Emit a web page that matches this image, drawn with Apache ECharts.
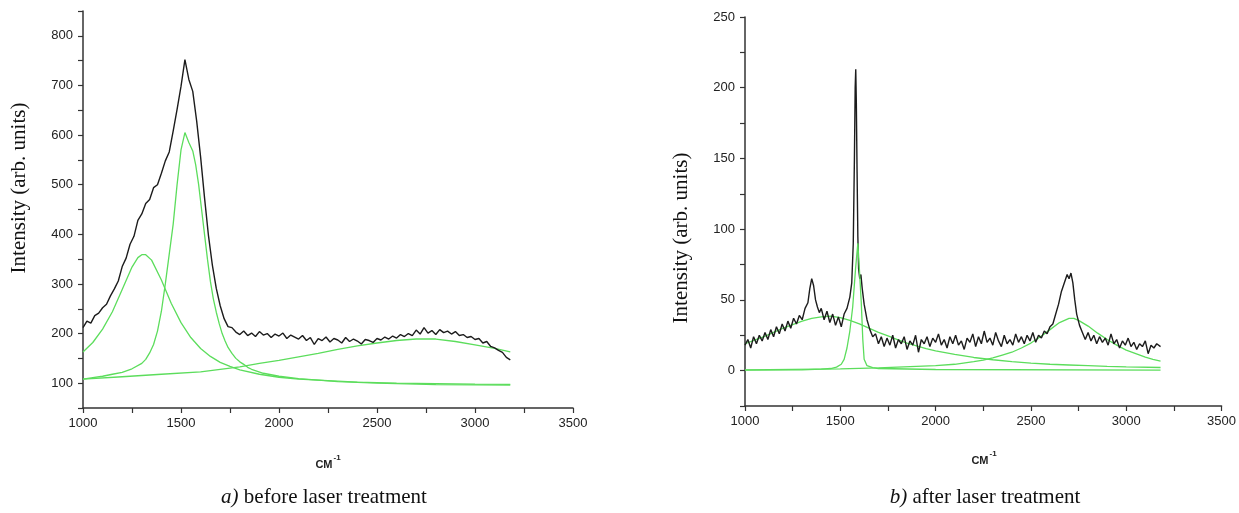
<!DOCTYPE html>
<html>
<head>
<meta charset="utf-8">
<script src="https://cdn.jsdelivr.net/npm/echarts@6/dist/echarts.min.js"></script>
<style>
html,body{margin:0;padding:0;background:#fff;}
#c{width:1239px;height:513px;}
</style>
</head>
<body>
<div id="c"></div>
<script>
// ---------- data: a) before laser treatment ----------
const leftMeasuredX = [1000,1020,1040,1060,1080,1100,1120,1140,1160,1180,1200,1220,1240,1260,1280,1300,1320,1340,1360,1380,1400,1420,1440,1460,1480,1500,1520,1540,1560,1580,1600,1620,1640,1660,1680,1700,1720,1740,1760,1780,1800,1820,1840,1860,1880,1900,1920,1940,1960,1980,2000,2020,2040,2060,2080,2100,2120,2140,2160,2180,2200,2220,2240,2260,2280,2300,2320,2340,2360,2380,2400,2420,2440,2460,2480,2500,2520,2540,2560,2580,2600,2620,2640,2660,2680,2700,2720,2740,2760,2780,2800,2820,2840,2860,2880,2900,2920,2940,2960,2980,3000,3020,3040,3060,3080,3100,3120,3140,3160,3180];
const leftMeasuredY = [212,225,221,236,241,252,259,276,290,306,335,352,380,396,428,441,462,470,494,500,523,548,566,608,652,698,752,712,688,628,556,474,398,338,291,256,230,214,212,203,198,205,196,201,194,204,197,200,192,199,195,201,190,197,193,189,196,186,192,178,190,186,193,183,190,187,181,192,184,189,185,179,188,186,182,190,187,193,189,195,191,198,194,200,196,207,199,212,201,206,198,208,202,205,199,204,196,198,192,194,188,190,181,184,174,171,166,162,152,147];

const leftFit1X = [1000,1050,1100,1150,1200,1250,1280,1300,1320,1350,1400,1450,1500,1550,1600,1650,1700,1750,1800,1900,2000,2100,2200,2400,2600,2800,3000,3180];
const leftFit1Y = [163,182,209,244,289,334,353,359,359,348,308,261,222,192,170,154,142,134,127,118,112,108,106,102,100,99,98,97.5];

const leftFit2X = [1000,1050,1100,1150,1200,1250,1300,1320,1340,1360,1380,1400,1420,1440,1460,1480,1500,1520,1540,1560,1575,1590,1605,1620,1635,1650,1665,1680,1695,1710,1725,1740,1760,1780,1800,1820,1840,1860,1890,1920,1960,2000,2100,2200,2300,2400,2500,2650,2800,3000,3180];
const leftFit2Y = [108,111,114,118,122,129,140,148,161,178,205,245,300,360,420,500,570,605,585,568,540,500,450,400,350,305,270,243,220,200,185,172,160,150,143,138,132,128,124,120,117,114,109,106,103,101.5,100,98.5,97,96.5,96];

const leftFit3X = [1000,1200,1400,1600,1800,1900,2000,2100,2200,2300,2400,2500,2600,2700,2800,2900,3000,3100,3180];
const leftFit3Y = [108,113,118,123,133,140,146,153,160,168,175,181,186,189,189,184,177,170,163];

// ---------- data: b) after laser treatment ----------
const rightMeasuredX = [1000,1015,1030,1045,1060,1075,1090,1105,1120,1135,1150,1165,1180,1195,1210,1225,1240,1255,1270,1285,1300,1315,1330,1340,1350,1360,1370,1380,1390,1400,1415,1430,1445,1460,1475,1490,1505,1520,1535,1550,1560,1568,1574,1578,1581,1584,1588,1592,1596,1602,1608,1615,1625,1640,1655,1670,1685,1700,1715,1730,1745,1760,1775,1790,1805,1820,1835,1850,1865,1880,1895,1910,1925,1940,1955,1970,1985,2000,2015,2030,2045,2060,2075,2090,2105,2120,2135,2150,2165,2180,2195,2210,2225,2240,2255,2270,2285,2300,2315,2330,2345,2360,2375,2390,2405,2420,2435,2450,2465,2480,2495,2510,2525,2540,2555,2570,2585,2600,2615,2630,2645,2660,2675,2690,2700,2710,2720,2730,2740,2755,2770,2785,2800,2815,2830,2845,2860,2875,2890,2905,2920,2935,2950,2965,2980,2995,3010,3025,3040,3055,3070,3085,3100,3115,3130,3145,3160,3180];
const rightMeasuredY = [18,22,16,24,19,25,21,27,22,29,24,31,26,33,28,35,30,37,33,39,36,44,48,58,65,60,50,45,41,44,36,42,34,40,32,38,31,40,44,52,62,90,150,200,213,190,140,95,72,65,68,58,47,36,29,24,26,19,24,17,23,18,25,16,22,19,24,15,21,18,25,13,22,19,24,17,23,20,26,18,22,16,24,19,25,18,21,15,23,20,26,17,24,19,28,20,23,18,27,21,17,25,19,22,18,26,20,24,19,25,21,27,20,25,23,28,26,31,33,40,47,56,62,68,65,69,62,50,40,32,27,22,27,21,25,19,24,20,23,18,26,19,22,16,21,18,23,17,20,15,19,17,21,12,18,16,19,17];

const rightFitAX = [1000,1050,1100,1150,1200,1250,1300,1350,1400,1450,1500,1550,1600,1650,1700,1750,1800,1850,1900,1950,2000,2100,2200,2300,2400,2500,2600,2700,2800,2900,3000,3180];
const rightFitAY = [19,21.5,24,27,30,32.5,35,37,38,38.5,37.5,35.5,33,30,27,24.5,22,19.5,17.5,15.5,14,11.5,9.3,7.7,6.3,5.3,4.5,4,3.5,3,2.7,2.2];

const rightFitBX = [1000,1300,1400,1450,1480,1505,1520,1535,1550,1565,1580,1592,1600,1610,1618,1625,1640,1670,1700,2000,3180];
const rightFitBY = [0.3,0.6,1,1.5,2.5,4.5,8,16,28,45,72,90,72,48,22,8,3.5,2.2,1.5,0.8,0.4];

const rightFitCX = [1000,1500,1700,1900,2000,2100,2200,2250,2300,2350,2400,2450,2500,2550,2600,2650,2700,2725,2750,2800,2850,2900,2950,3000,3050,3100,3140,3180];
const rightFitCY = [0.5,1.2,2,3,3.5,4.5,6.3,7.5,9,11,13,16,19.5,24,29,34,37,37,35.5,31.5,26.5,22,18,14.5,12,9.5,8,6.8];

const xTicksMain = [1000,1500,2000,2500,3000,3500];

// ---------- chart ----------
const pair = (xs, ys) => xs.map((x, i) => [x, ys[i]]);
const GREEN = '#5cdd5c';
const BLACK = '#1c1c1c';
const AXIS = '#333';
const SANS = '"Liberation Sans", Arial, sans-serif';
const SERIF = '"Liberation Serif", "Times New Roman", serif';

function xAxis(gi) {
  return {
    type: 'value', gridIndex: gi, min: 1000, max: 3500, interval: 250,
    axisLine: {show: true, onZero: false, lineStyle: {color: AXIS, width: 1.5}},
    axisTick: {show: true, inside: false, length: 5, lineStyle: {color: AXIS, width: 1.2}},
    splitLine: {show: false},
    axisLabel: {
      margin: 9, color: '#222', fontSize: 13, fontFamily: SANS,
      formatter: v => (xTicksMain.indexOf(v) >= 0 ? String(v) : '')
    }
  };
}
function yAxis(gi, min, max, interval, labelStep) {
  return {
    type: 'value', gridIndex: gi, min: min, max: max, interval: interval,
    axisLine: {show: true, onZero: false, lineStyle: {color: AXIS, width: 1.5}},
    axisTick: {show: true, inside: false, length: 5, lineStyle: {color: AXIS, width: 1.2}},
    splitLine: {show: false},
    axisLabel: {
      margin: 10, color: '#222', fontSize: 13, fontFamily: SANS,
      formatter: v => (v % labelStep === 0 ? String(v) : '')
    }
  };
}
function line(name, gi, data, color, width, z) {
  return {
    name: name, type: 'line', xAxisIndex: gi, yAxisIndex: gi, data: data,
    showSymbol: false, symbol: 'none', smooth: false,
    lineStyle: {color: color, width: width}, itemStyle: {color: color},
    z: z, animation: false, silent: true
  };
}

const cmLabel = (x, y) => ({
  type: 'text', x: x, y: y,
  style: {text: '{b|CM}{s|-1}', align: 'center', verticalAlign: 'middle',
    rich: {b: {font: 'bold 11px ' + SANS, fill: '#222', verticalAlign: 'bottom'},
           s: {font: 'bold 8px ' + SANS, fill: '#222', verticalAlign: 'top', padding: [0, 0, 8, 1]}}}
});

const chart = echarts.init(document.getElementById('c'), null, {renderer: 'canvas'});
chart.setOption({
  backgroundColor: '#fff',
  animation: false,
  grid: [
    {left: 83, top: 11, width: 490, height: 397, containLabel: false},
    {left: 745, top: 17, width: 477, height: 389, containLabel: false}
  ],
  xAxis: [xAxis(0), xAxis(1)],
  yAxis: [yAxis(0, 50, 850, 50, 100), yAxis(1, -25, 250, 25, 50)],
  series: [
    line('a measured', 0, pair(leftMeasuredX, leftMeasuredY), BLACK, 1.4, 3),
    line('a fit 1', 0, pair(leftFit1X, leftFit1Y), GREEN, 1.3, 2),
    line('a fit 2', 0, pair(leftFit2X, leftFit2Y), GREEN, 1.3, 2),
    line('a fit 3', 0, pair(leftFit3X, leftFit3Y), GREEN, 1.3, 2),
    line('b measured', 1, pair(rightMeasuredX, rightMeasuredY), BLACK, 1.4, 3),
    line('b fit A', 1, pair(rightFitAX, rightFitAY), GREEN, 1.3, 2),
    line('b fit B', 1, pair(rightFitBX, rightFitBY), GREEN, 1.3, 4),
    line('b fit C', 1, pair(rightFitCX, rightFitCY), GREEN, 1.3, 2)
  ],
  graphic: [
    {type: 'text', x: 19, y: 188, rotation: Math.PI / 2,
     style: {text: 'Intensity (arb. units)', font: '21px ' + SERIF, fill: '#111', align: 'center', verticalAlign: 'middle'}},
    {type: 'text', x: 681, y: 238, rotation: Math.PI / 2,
     style: {text: 'Intensity (arb. units)', font: '21px ' + SERIF, fill: '#111', align: 'center', verticalAlign: 'middle'}},
    cmLabel(328, 462),
    cmLabel(984, 458),
    {type: 'text', x: 324, y: 497,
     style: {text: '{i|a)} before laser treatment', font: '21px ' + SERIF, fill: '#111', align: 'center', verticalAlign: 'middle',
       rich: {i: {font: 'italic 21px ' + SERIF, fill: '#111'}}}},
    {type: 'text', x: 985, y: 497,
     style: {text: '{i|b)} after laser treatment', font: '21px ' + SERIF, fill: '#111', align: 'center', verticalAlign: 'middle',
       rich: {i: {font: 'italic 21px ' + SERIF, fill: '#111'}}}}
  ]
});
</script>
</body>
</html>
